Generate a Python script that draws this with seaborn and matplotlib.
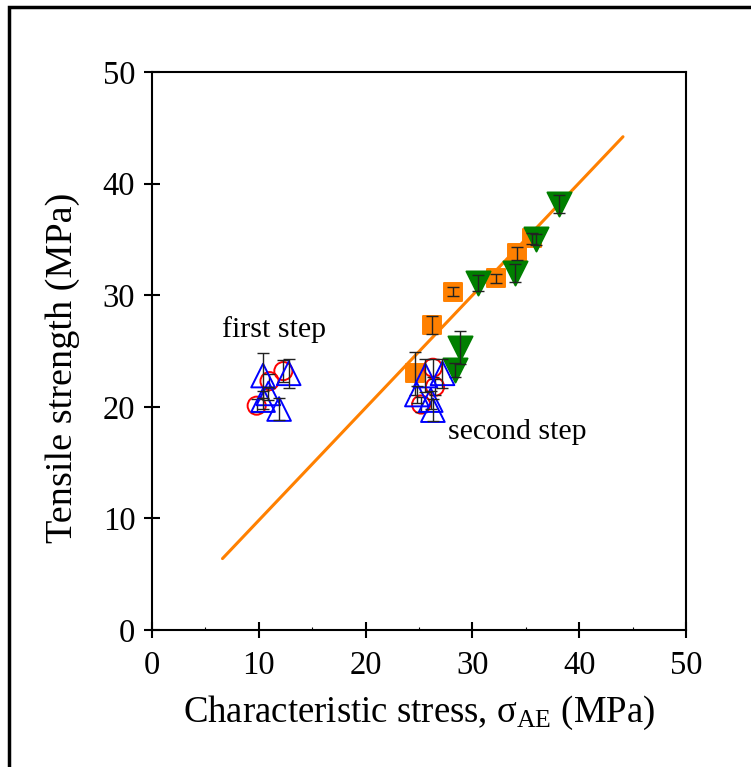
import matplotlib
matplotlib.use("Agg")
import matplotlib.pyplot as plt
import seaborn as sns
import pandas as pd
from matplotlib.patches import Rectangle

# ---- data ----
red_x = [9.8, 11.0, 12.3, 26.3, 26.5, 25.2]
red_y = [20.1, 22.3, 23.2, 23.5, 21.8, 20.2]
red_err = [0.6, 0.6, 1.0, 0.8, 0.7, 0.7]

blue_x = [10.4, 12.8, 10.9, 10.4, 11.9, 25.6, 27.2, 24.8, 26.3, 26.1]
blue_y = [22.8, 23.0, 21.2, 20.6, 19.8, 22.8, 23.0, 21.1, 19.7, 20.6]
blue_err = [2.0, 1.3, 0.6, 0.8, 1.0, 1.5, 1.3, 0.8, 1.0, 0.8]

orange_x = [24.6, 26.2, 28.2, 32.2, 34.2, 35.6]
orange_y = [23.0, 27.3, 30.3, 31.5, 33.75, 35.1]
orange_err = [1.9, 0.8, 0.4, 0.4, 0.6, 0.5]

green_x = [28.8, 28.4, 30.5, 34.0, 36.0, 38.1]
green_y = [25.3, 23.3, 31.1, 32.0, 35.0, 38.2]
green_err = [1.5, 0.6, 0.7, 0.8, 0.5, 0.8]

fit_x = [6.6, 44.1]
fit_y = [6.4, 44.2]

x_ticks = [0, 10, 20, 30, 40, 50]
y_ticks = [0, 10, 20, 30, 40, 50]

# ---- style ----
sns.set_theme(style="ticks")
plt.rcParams['font.family'] = ['Liberation Serif', 'DejaVu Serif']
plt.rcParams['mathtext.fontset'] = 'custom'
plt.rcParams['mathtext.rm'] = 'Liberation Serif'
plt.rcParams['mathtext.it'] = 'Liberation Serif:italic'
plt.rcParams['text.color'] = 'black'
plt.rcParams['axes.labelcolor'] = 'black'
plt.rcParams['xtick.color'] = 'black'
plt.rcParams['ytick.color'] = 'black'

fig = plt.figure(figsize=(7.51, 7.67), dpi=100)
ax = fig.add_axes([152/751, 1-630/767, (686-152)/751, (630-72)/767])

ORANGE = '#FF8000'
GREEN = '#007F00'
BLUE = '#0000FF'
RED = '#FF0000'

sns.lineplot(x=fit_x, y=fit_y, ax=ax, color=ORANGE, lw=2.2, zorder=1)

def series(x, y, err, marker, size, face, edge, z):
    df = pd.DataFrame({'x': x, 'y': y})
    sns.scatterplot(data=df, x='x', y='y', ax=ax, marker=marker, s=size,
                    facecolor=face, edgecolor=edge, linewidth=1.4, zorder=z)
    ax.errorbar(x, y, yerr=err, fmt='none', ecolor='#222222', elinewidth=1.0,
                capsize=4.5, capthick=1.0, zorder=z + 0.5)

series(orange_x, orange_y, orange_err, 's', 170, ORANGE, ORANGE, 2)
series(green_x, green_y, green_err, 'v', 300, GREEN, GREEN, 2)
series(red_x, red_y, red_err, 'o', 170, 'none', RED, 3)
series(blue_x, blue_y, blue_err, '^', 290, 'none', BLUE, 4)

ax.set_xlim(0, 50)
ax.set_ylim(0, 50)
ax.set_xticks(x_ticks)
ax.set_yticks(y_ticks)
ax.set_xticks([5, 15, 25, 35, 45], minor=True)
ax.tick_params(which='major', direction='inout', length=12, width=1.5,
               labelsize=23.5, colors='black', top=False, right=False)
ax.tick_params(which='minor', direction='in', length=2, width=0.8,
               top=False, right=False)
ax.tick_params(axis='y', pad=6)
ax.tick_params(axis='x', pad=9)
for sp in ax.spines.values():
    sp.set_linewidth(1.5)
    sp.set_color('black')

ax.set_xlabel('Characteristic stress, σ$_{\\mathrm{AE}}$ (MPa)', fontsize=26.5, labelpad=9)
ax.set_ylabel('Tensile strength (MPa)', fontsize=27.5)
ax.yaxis.set_label_coords(-72/534, 0.47)

ax.text(6.55, 26.9, 'first step', fontsize=21.5, ha='left', va='center')
ax.text(27.7, 17.7, 'second step', fontsize=21.5, ha='left', va='center')

fig.patches.append(Rectangle((9/751, -0.2), 1.5, 1.2 - 7/767, transform=fig.transFigure,
                             fill=False, lw=2.5, edgecolor='black', clip_on=False))

fig.savefig('out.png', dpi=100)
